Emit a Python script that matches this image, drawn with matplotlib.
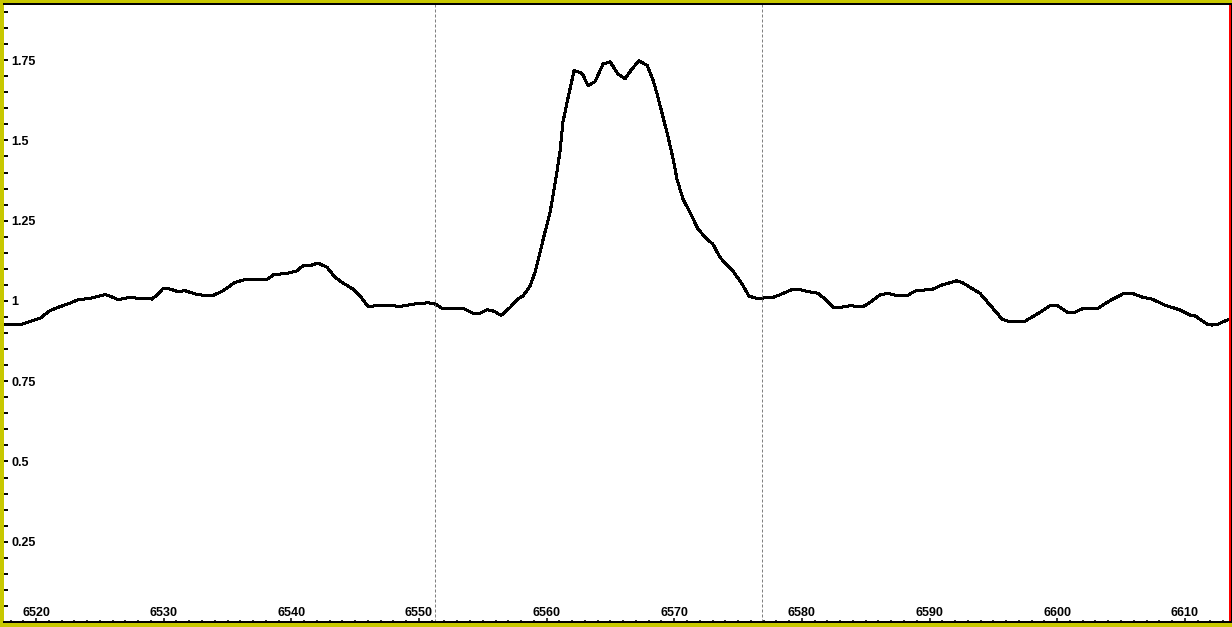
import matplotlib
matplotlib.use("Agg")
import matplotlib.pyplot as plt
from matplotlib.lines import Line2D
from matplotlib.ticker import MultipleLocator

# spectrum
wavelength = [6517.18, 6518.75, 6520.31, 6521.10, 6521.72, 6522.66, 6523.29, 6524.23, 6525.01, 6525.41,
              6525.80, 6526.42, 6527.21, 6527.91, 6529.09, 6529.48, 6529.95, 6530.50, 6531.13, 6531.67,
              6532.69, 6533.87, 6534.65, 6535.59, 6536.53, 6537.16, 6538.10, 6538.57, 6539.74, 6540.45,
              6540.92, 6541.62, 6542.09, 6542.80, 6543.42, 6544.05, 6544.83, 6545.38, 6546.01, 6547.34,
              6548.52, 6549.53, 6550.63, 6551.18, 6551.81, 6553.45, 6554.23, 6554.78, 6555.33, 6555.88,
              6556.43, 6557.14, 6557.76, 6558.15, 6558.70, 6559.09, 6559.48, 6559.87, 6560.27, 6560.50,
              6560.81, 6561.05, 6561.28, 6561.60, 6562.15, 6562.62, 6562.85, 6563.24, 6563.79, 6564.42,
              6564.97, 6565.60, 6566.14, 6566.69, 6567.24, 6567.87, 6568.34, 6568.73, 6569.12, 6569.52,
              6569.90, 6570.21, 6570.68, 6571.23, 6571.86, 6572.56, 6573.03, 6573.58, 6574.13, 6574.60,
              6575.31, 6575.86, 6576.48, 6577.74, 6578.44, 6579.30, 6579.85, 6580.40, 6581.26, 6581.81,
              6582.44, 6582.98, 6583.77, 6584.79, 6585.34, 6586.12, 6586.74, 6587.53, 6588.23, 6588.86,
              6590.27, 6590.98, 6592.15, 6592.62, 6593.95, 6594.89, 6595.67, 6596.14, 6597.48, 6598.42,
              6599.44, 6600.06, 6600.77, 6601.39, 6601.94, 6603.12, 6604.13, 6605.15, 6605.86, 6606.72,
              6607.43, 6608.44, 6609.62, 6610.40, 6610.79, 6611.73, 6612.12, 6612.52, 6612.91, 6613.38]
flux = [0.926, 0.926, 0.946, 0.970, 0.980, 0.993, 1.004, 1.008, 1.016, 1.020,
        1.015, 1.004, 1.010, 1.009, 1.006, 1.019, 1.039, 1.037, 1.029, 1.032,
        1.019, 1.017, 1.032, 1.058, 1.068, 1.068, 1.067, 1.081, 1.087, 1.094,
        1.110, 1.112, 1.118, 1.105, 1.074, 1.056, 1.037, 1.016, 0.983, 0.987,
        0.983, 0.990, 0.994, 0.993, 0.977, 0.977, 0.962, 0.962, 0.973, 0.968,
        0.955, 0.980, 1.006, 1.016, 1.046, 1.089, 1.152, 1.214, 1.276, 1.328,
        1.401, 1.467, 1.557, 1.619, 1.717, 1.712, 1.704, 1.671, 1.683, 1.738,
        1.745, 1.707, 1.692, 1.723, 1.748, 1.734, 1.688, 1.634, 1.573, 1.510,
        1.445, 1.380, 1.318, 1.276, 1.224, 1.193, 1.177, 1.136, 1.112, 1.093,
        1.053, 1.015, 1.008, 1.011, 1.022, 1.037, 1.035, 1.030, 1.024, 1.006,
        0.980, 0.980, 0.985, 0.982, 0.996, 1.019, 1.024, 1.016, 1.016, 1.031,
        1.037, 1.050, 1.063, 1.056, 1.024, 0.980, 0.944, 0.937, 0.937, 0.959,
        0.985, 0.985, 0.965, 0.965, 0.975, 0.975, 1.001, 1.022, 1.024, 1.011,
        1.006, 0.987, 0.972, 0.956, 0.954, 0.928, 0.925, 0.926, 0.934, 0.941]

# selected range (dashed markers)
region = [6551.25, 6576.85]

xticks = [6520, 6530, 6540, 6550, 6560, 6570, 6580, 6590, 6600, 6610]
yticks = [0.25, 0.5, 0.75, 1, 1.25, 1.5, 1.75]
ytick_labels = ["0.25", "0.5", "0.75", "1", "1.25", "1.5", "1.75"]

W, H = 1232, 627
yellow = "#c8c800"

fig = plt.figure(figsize=(W / 100, H / 100), dpi=100)
fig.patch.set_facecolor(yellow)

# axes box in pixels: left 4, right 1229.5, top 4, bottom 622
ax = fig.add_axes([4 / W, 5 / H, 1225.5 / W, 618 / H])
ax.set_facecolor("white")

ax.plot(wavelength, flux, color="black", lw=1.44, antialiased=False)
for r in region:
    ax.axvline(r, color="#808080", lw=0.72, ls=(0, (3, 2)))

ax.set_xlim(6517.49, 6613.50)
ax.set_ylim(0, 1.925)

ax.set_xticks(xticks)
ax.set_xticklabels([str(t) for t in xticks])
ax.set_yticks(yticks)
ax.set_yticklabels(ytick_labels)
ax.xaxis.set_minor_locator(MultipleLocator(1))
ax.yaxis.set_minor_locator(MultipleLocator(0.05))

ax.tick_params(axis="x", which="major", direction="in", length=3, width=1.1, pad=-4,
               colors="black", labelsize=9)
ax.tick_params(axis="x", which="minor", direction="in", length=1.8, width=1.1)
ax.tick_params(axis="y", which="both", direction="in", length=3, width=1.4, pad=-5.5,
               labelsize=9)

for lab in ax.get_xticklabels():
    lab.set_verticalalignment("baseline")
    lab.set_fontfamily("Liberation Sans")
    lab.set_fontweight("bold")
for lab in ax.get_yticklabels():
    lab.set_horizontalalignment("left")
    lab.set_fontfamily("Liberation Sans")
    lab.set_fontweight("bold")

ax.spines["left"].set_visible(False)
ax.spines["top"].set_linewidth(1.44)
ax.spines["bottom"].set_linewidth(1.44)
ax.spines["right"].set_color("#ff0000")
ax.spines["right"].set_linewidth(1.44)
ax.spines["right"].set_antialiased(False)

# thin black edge outside the red one
fig.add_artist(Line2D([1231 / W, 1231 / W], [5 / H, 1 - 3 / H], color="black", lw=0.72,
                      antialiased=False))

fig.savefig("out.png", dpi=100, facecolor=fig.get_facecolor())
